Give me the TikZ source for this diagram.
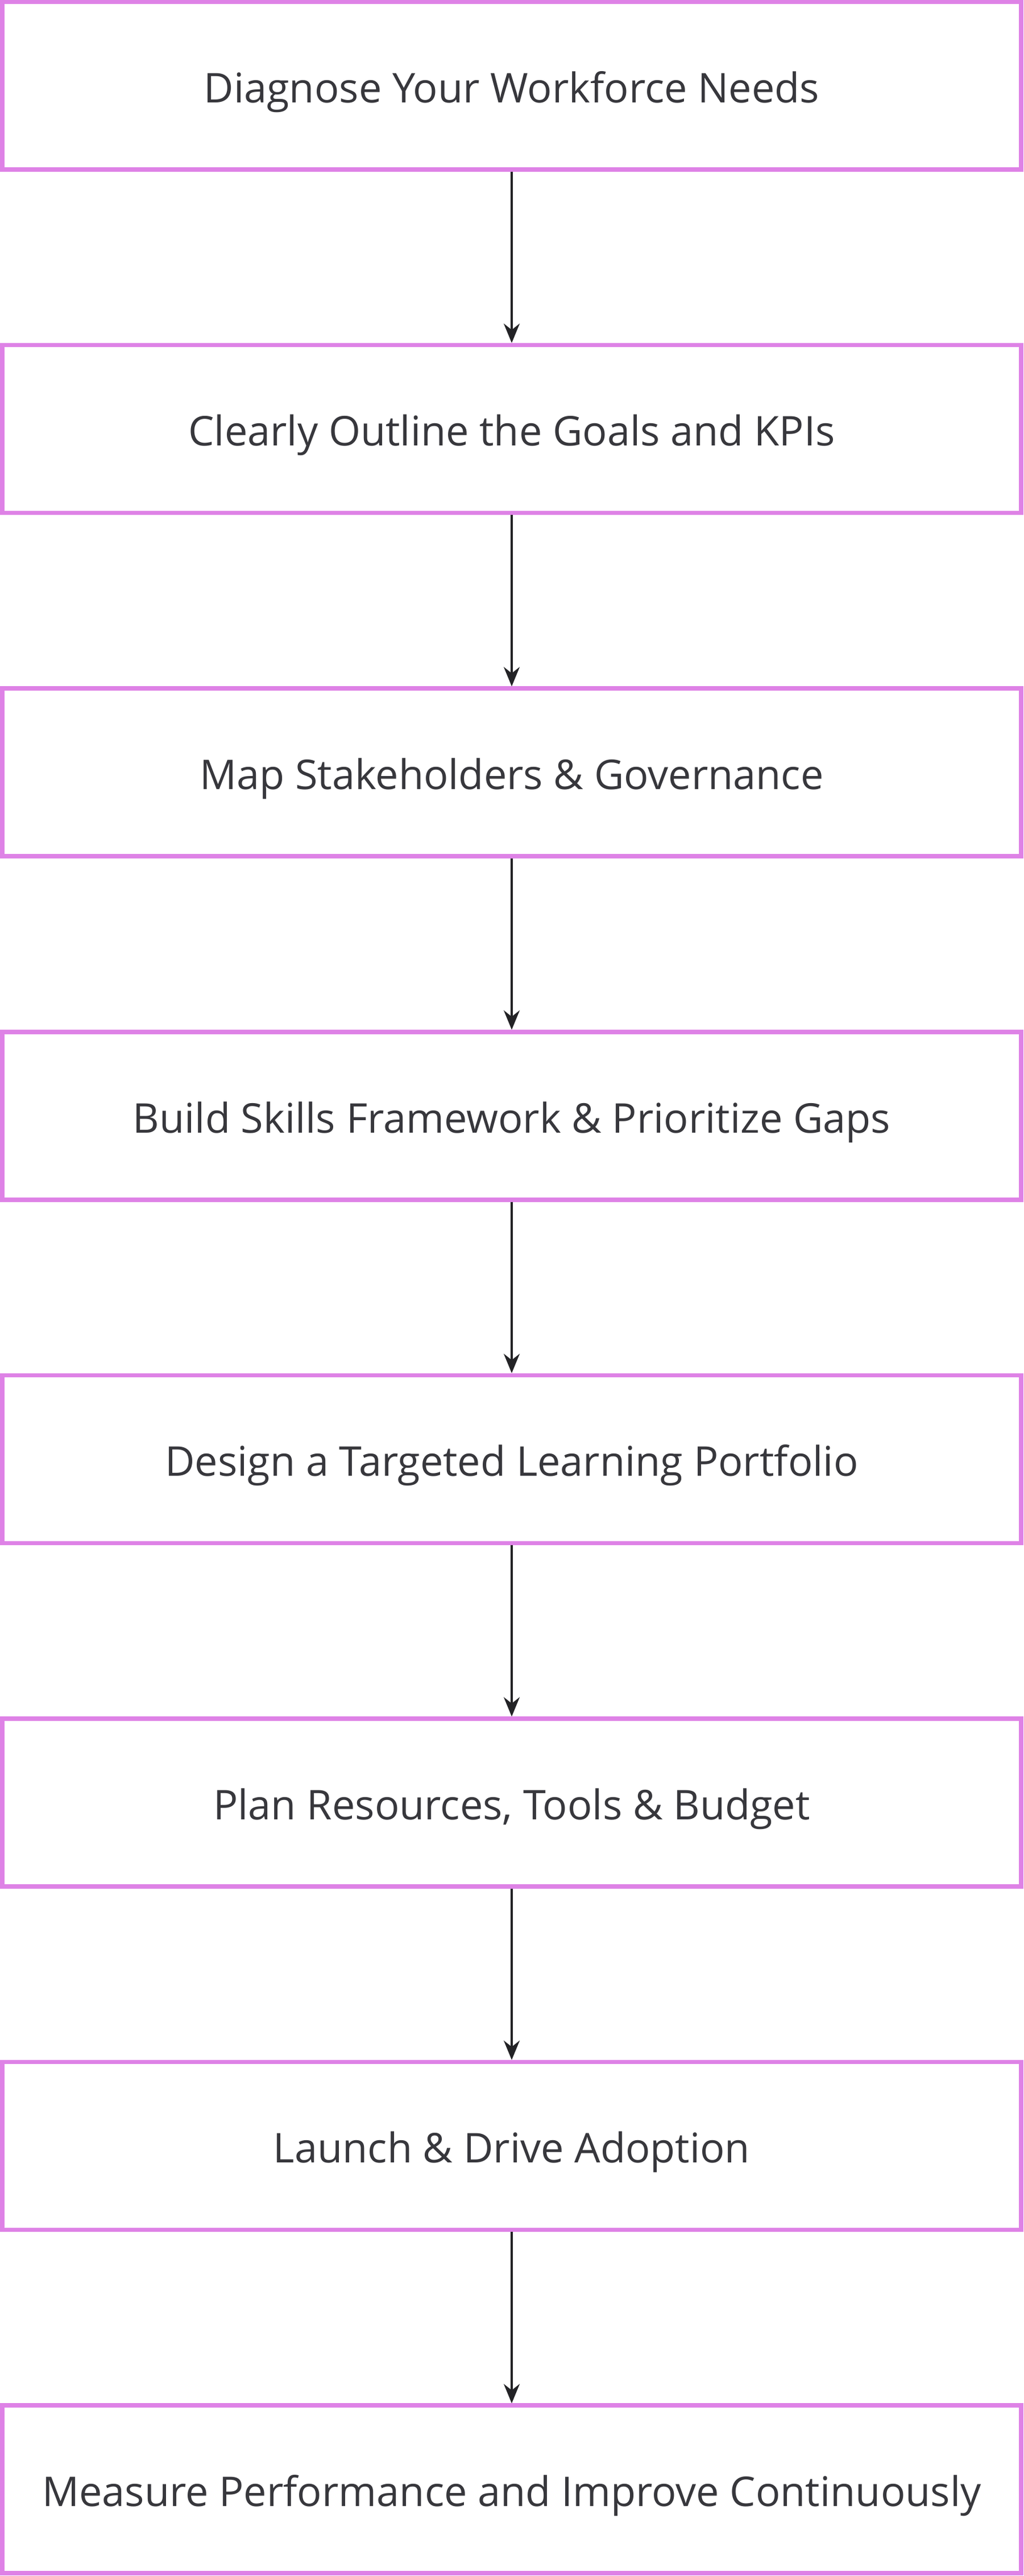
\documentclass[tikz,border=0pt]{standalone}
\usepackage{fontspec}
\setmainfont{Open Sans}
\usetikzlibrary{arrows.meta}
\definecolor{boxpink}{RGB}{222,130,230}
\definecolor{txtgray}{RGB}{55,55,60}
\definecolor{arrgray}{RGB}{35,35,38}
\tikzset{
  stepbox/.style={draw=boxpink, line width=3.8pt, fill=white, minimum width=896pt, minimum height=147.5pt, inner sep=0pt, text height=29.7pt, text depth=0pt, font=\fontsize{36}{42}\selectfont, text=txtgray},
  flowarrow/.style={draw=arrgray, line width=1.8pt, -{Stealth[length=17pt,width=14pt]}}
}
\begin{document}
\begin{tikzpicture}
\useasboundingbox (0,0) rectangle (900pt,-2264pt);
\node[stepbox] (b1) at (450pt,-75.25pt) {Diagnose Your Workforce Needs};
\node[stepbox] (b2) at (450pt,-377.05pt) {Clearly Outline the Goals and KPIs};
\node[stepbox] (b3) at (450pt,-678.85pt) {Map Stakeholders \& Governance};
\node[stepbox] (b4) at (450pt,-980.65pt) {Build Skills Framework \& Prioritize Gaps};
\node[stepbox] (b5) at (450pt,-1282.45pt) {Design a Targeted Learning Portfolio};
\node[stepbox] (b6) at (450pt,-1584.25pt) {Plan Resources, Tools \& Budget};
\node[stepbox] (b7) at (450pt,-1886.05pt) {Launch \& Drive Adoption};
\node[stepbox] (b8) at (450pt,-2187.85pt) {Measure Performance and Improve Continuously};
\draw[flowarrow] (b1.south) -- (b2.north);
\draw[flowarrow] (b2.south) -- (b3.north);
\draw[flowarrow] (b3.south) -- (b4.north);
\draw[flowarrow] (b4.south) -- (b5.north);
\draw[flowarrow] (b5.south) -- (b6.north);
\draw[flowarrow] (b6.south) -- (b7.north);
\draw[flowarrow] (b7.south) -- (b8.north);
\end{tikzpicture}
\end{document}
